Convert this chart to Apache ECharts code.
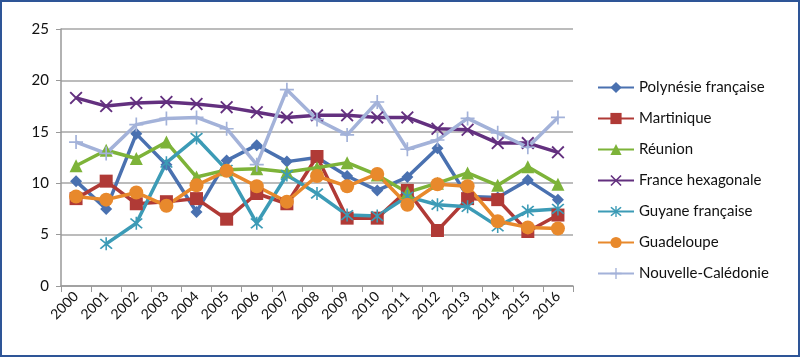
<!DOCTYPE html>
<html><head><meta charset="utf-8">
<script src="https://cdn.jsdelivr.net/npm/echarts@6/dist/echarts.min.js"></script>
<style>
html,body{margin:0;padding:0;background:#fff;}
#frame{position:absolute;left:0;top:0;width:800px;height:357px;box-sizing:border-box;border:2px solid #2E5597;}
#chart{position:absolute;left:0;top:0;width:800px;height:357px;}
</style></head>
<body>
<div id="chart"></div>
<div id="frame"></div>
<script>
const years = ['2000','2001','2002','2003','2004','2005','2006','2007','2008','2009','2010','2011','2012','2013','2014','2015','2016'];
const polynesie = [10.2,7.5,14.8,11.8,7.2,12.2,13.7,12.1,12.5,10.7,9.3,10.6,13.4,8.7,8.6,10.3,8.4];
const martinique = [8.5,10.2,8.0,8.2,8.5,6.5,9.0,8.0,12.6,6.6,6.6,9.3,5.4,8.5,8.4,5.3,6.9];
const reunion = [11.7,13.2,12.4,14.0,10.6,11.3,11.4,11.1,11.5,12.0,10.8,9.1,10.0,11.0,9.8,11.6,9.9];
const franceHex = [18.3,17.5,17.8,17.9,17.7,17.4,16.9,16.4,16.6,16.6,16.4,16.4,15.3,15.2,13.9,13.9,13.0];
const guyane = [null,4.1,6.1,12.0,14.4,11.3,6.1,10.8,9.0,6.9,6.8,8.7,7.9,7.7,5.8,7.3,7.5];
const guadeloupe = [8.7,8.4,9.1,7.8,9.8,11.2,9.7,8.2,10.7,9.7,10.9,7.9,9.9,9.7,6.3,5.7,5.6];
const caledonie = [14.0,12.9,15.7,16.3,16.4,15.3,11.8,19.1,16.2,14.7,17.9,13.3,14.2,16.3,14.9,13.5,16.4];
const seriesNames = ['Polynésie française','Martinique','Réunion','France hexagonale','Guyane française','Guadeloupe','Nouvelle-Calédonie'];
const yTicks = [0,5,10,15,20,25];

const xPath = 'path://M1,0 L5,4 L9,0 L10,1 L6,5 L10,9 L9,10 L5,6 L1,10 L0,9 L4,5 L0,1 Z';
const plusPath = 'path://M4.4,0 H5.6 V4.4 H10 V5.6 H5.6 V10 H4.4 V5.6 H0 V4.4 H4.4 Z';
const starPath = 'path://M1,0 L5,4 L9,0 L10,1 L6,5 L10,9 L9,10 L5,6 L1,10 L0,9 L4,5 L0,1 Z M4.4,-1 H5.6 V11 H4.4 Z';

const colors = ['#4A71B0','#B03A36','#7DB339','#63307F','#3C9BB6','#E8892C','#A3B2D9'];
const symbols = ['diamond','rect','triangle',xPath,starPath,'circle',plusPath];
const sizes = [12,13,13,13,13,14,14];
const datas = [polynesie,martinique,reunion,franceHex,guyane,guadeloupe,caledonie];

const chart = echarts.init(document.getElementById('chart'));
chart.setOption({
  animation:false,
  textStyle:{fontFamily:'Lato, "Open Sans", sans-serif'},
  grid:{left:61,right:227,top:29,bottom:71},
  legend:{
    orient:'vertical', left:592, top:75, itemGap:16, itemWidth:36, itemHeight:14,
    textStyle:{fontSize:15,color:'#111',fontFamily:'Lato, "Open Sans", sans-serif'},
    data:seriesNames
  },
  xAxis:{
    type:'category', data:years, boundaryGap:true,
    axisLine:{lineStyle:{color:'#999',width:1.5}},
    axisTick:{show:true,length:6,lineStyle:{color:'#999'}},
    axisLabel:{rotate:45,fontSize:14,color:'#111',margin:8}
  },
  yAxis:{
    type:'value', min:0, max:25, interval:5,
    axisLine:{show:true,lineStyle:{color:'#999',width:1.5}},
    axisTick:{show:true,length:5,lineStyle:{color:'#999'}},
    axisLabel:{fontSize:15,color:'#111',margin:12},
    splitLine:{lineStyle:{color:'#A6A6A6',width:1.5}}
  },
  series: datas.map((d,i)=>({
    name:seriesNames[i], type:'line', data:d,
    symbol:symbols[i], symbolSize:sizes[i], showAllSymbol:true,
    lineStyle:{width:3.5,color:colors[i]},
    itemStyle:{color:colors[i]},
    connectNulls:false
  }))
});
</script>
</body></html>
